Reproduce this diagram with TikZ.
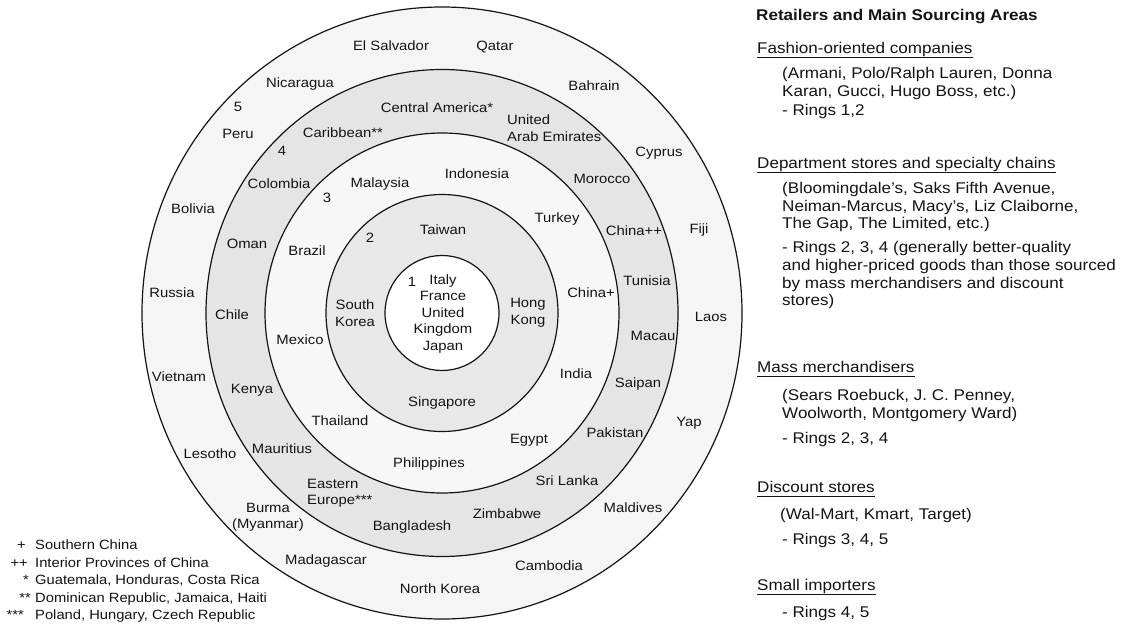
\documentclass[tikz,border=0pt]{standalone}
\usepackage{fontspec}
\setmainfont[FakeStretch=1.1]{Liberation Sans}
\usetikzlibrary{calc}

\definecolor{ink}{HTML}{141414}
\newcommand\ringfont{\fontsize{13.5}{16.5}\selectfont}
\newcommand\sidefont{\fontsize{15.5}{18}\selectfont}
\newcommand\notefont{\fontsize{13.4}{16}\selectfont}

\tikzset{
  ring/.style={draw=ink, line width=1.2pt},
  place/.style={font=\ringfont, inner sep=0pt, text=ink, anchor=base},
  block/.style={font=\ringfont, inner sep=0pt, text=ink, align=center},
  lblock/.style={font=\ringfont, inner sep=0pt, text=ink, align=left, anchor=west},
  head/.style={font=\sidefont, inner sep=0pt, text=ink, anchor=base west},
  body/.style={font=\sidefont, inner sep=0pt, text=ink, anchor=base west},
  uline/.style={draw=ink, line width=0.8pt},
  notemark/.style={font=\notefont, inner sep=0pt, text=ink, anchor=base east},
  note/.style={font=\notefont, inner sep=0pt, text=ink, anchor=base west},
}

\begin{document}
\begin{tikzpicture}[x=1pt, y=-1pt]
\useasboundingbox (0,0) rectangle (1123,623);
\fill[white] (0,0) rectangle (1123,623);

% ---- concentric sourcing rings ----
\coordinate (O) at (442,313);
\fill[black!4]  (O) ellipse [x radius=300pt, y radius=306pt];
\fill[black!10] (O) ellipse [x radius=236pt, y radius=243.5pt];
\fill[black!3]  (O) ellipse [x radius=177pt, y radius=180pt];
\fill[black!9]  (O) ellipse [x radius=116pt, y radius=118.5pt];
\fill[white]    (O) ellipse [x radius=57pt,  y radius=57.5pt];
\draw[ring] (O) ellipse [x radius=300pt, y radius=306pt];
\draw[ring] (O) ellipse [x radius=236pt, y radius=243.5pt];
\draw[ring] (O) ellipse [x radius=177pt, y radius=180pt];
\draw[ring] (O) ellipse [x radius=116pt, y radius=118.5pt];
\draw[ring] (O) ellipse [x radius=57pt,  y radius=57.5pt];

% ring 1
\node[place] (n1) at (412,286) {1};
\node[block] (core) at (443,314) {Italy\\France\\United\\Kingdom\\Japan};

% ring 2
\node[place] (n2) at (370,242) {2};
\node[place] (taiwan) at (443,234) {Taiwan};
\node[block] (skorea) at (355,313) {South\\Korea};
\node[block] (hkong) at (528,313) {Hong\\Kong};
\node[place] (singapore) at (442,406) {Singapore};

% ring 3
\node[place] (n3) at (327,202) {3};
\node[place] (malaysia) at (380,187) {Malaysia};
\node[place] (indonesia) at (477,178) {Indonesia};
\node[place] (turkey) at (557,222) {Turkey};
\node[place] (brazil) at (307,255) {Brazil};
\node[place] (chinap) at (591,297) {China+};
\node[place] (mexico) at (300,344) {Mexico};
\node[place] (india) at (576,378) {India};
\node[place] (thailand) at (340,425) {Thailand};
\node[place] (egypt) at (529,443) {Egypt};
\node[place] (philippines) at (429,467) {Philippines};

% ring 4
\node[place] (n4) at (282,155) {4};
\node[place] (centralam) at (437,113) {Central America*};
\node[place] (caribbean) at (343,137) {Caribbean**};
\node[lblock] (uae) at (507,128) {United\\Arab Emirates};
\node[place] (colombia) at (279,188) {Colombia};
\node[place] (morocco) at (602,183) {Morocco};
\node[place] (oman) at (247,248) {Oman};
\node[place] (chinapp) at (634,235) {China++};
\node[place] (chile) at (232,319) {Chile};
\node[place] (tunisia) at (647,285) {Tunisia};
\node[place] (macau) at (653,340) {Macau};
\node[place] (kenya) at (252,393) {Kenya};
\node[place] (saipan) at (638,387) {Saipan};
\node[place] (mauritius) at (282,453) {Mauritius};
\node[place] (pakistan) at (615,437) {Pakistan};
\node[lblock] (easteu) at (307,493) {Eastern\\Europe***};
\node[place] (srilanka) at (567,485) {Sri Lanka};
\node[place] (bangladesh) at (412,530) {Bangladesh};
\node[place] (zimbabwe) at (507,518) {Zimbabwe};

% ring 5
\node[place] (n5) at (238,112) {5};
\node[place] (elsalvador) at (391,51) {El Salvador};
\node[place] (qatar) at (495,51) {Qatar};
\node[place] (nicaragua) at (300,88) {Nicaragua};
\node[place] (bahrain) at (594,91) {Bahrain};
\node[place] (peru) at (238,138) {Peru};
\node[place] (cyprus) at (659,156) {Cyprus};
\node[place] (bolivia) at (193,213) {Bolivia};
\node[place] (fiji) at (699,233) {Fiji};
\node[place] (russia) at (172,297) {Russia};
\node[place] (laos) at (711,321) {Laos};
\node[place] (vietnam) at (179,381) {Vietnam};
\node[place] (yap) at (689,426) {Yap};
\node[place] (lesotho) at (210,458) {Lesotho};
\node[block] (burma) at (268,517) {Burma\\(Myanmar)};
\node[place] (maldives) at (633,512) {Maldives};
\node[place] (madagascar) at (326,564) {Madagascar};
\node[place] (cambodia) at (549,570) {Cambodia};
\node[place] (nkorea) at (440,593) {North Korea};

% ---- footnotes ----
\node[notemark] (m1) at (26,549) {+};
\node[note] (f1) at (35,549) {Southern China};
\node[notemark] (m2) at (28,567) {++};
\node[note] (f2) at (35,567) {Interior Provinces of China};
\node[notemark] (m3) at (29,584) {*};
\node[note] (f3) at (35,584) {Guatemala, Honduras, Costa Rica};
\node[notemark] (m4) at (31,602) {**};
\node[note] (f4) at (35,602) {Dominican Republic, Jamaica, Haiti};
\node[notemark] (m5) at (24,619) {***};
\node[note] (f5) at (35,619) {Poland, Hungary, Czech Republic};

% ---- retailer key ----
\node[head, font=\sidefont\bfseries] (title) at (756,20.5) {Retailers and Main Sourcing Areas};

\node[head] (h1) at (757,53.5) {Fashion-oriented companies};
\draw[uline] ($(h1.base west)+(0,4)$) -- ($(h1.base east)+(0,4)$);
\node[body] (a1) at (782,78.5) {(Armani, Polo/Ralph Lauren, Donna};
\node[body] (a2) at (782,97) {Karan, Gucci, Hugo Boss, etc.)};
\node[body] (a3) at (782,115.5) {- Rings 1,2};

\node[head] (h2) at (757,168.5) {Department stores and specialty chains};
\draw[uline] ($(h2.base west)+(0,4)$) -- ($(h2.base east)+(0,4)$);
\node[body] (b1) at (782,193.5) {(Bloomingdale's, Saks Fifth Avenue,};
\node[body] (b2) at (782,211.5) {Neiman-Marcus, Macy's, Liz Claiborne,};
\node[body] (b3) at (782,228.5) {The Gap, The Limited, etc.)};
\node[body] (b4) at (782,252.5) {- Rings 2, 3, 4 (generally better-quality};
\node[body] (b5) at (782,270.5) {and higher-priced goods than those sourced};
\node[body] (b6) at (782,288.5) {by mass merchandisers and discount};
\node[body] (b7) at (782,305.5) {stores)};

\node[head] (h3) at (757,372.5) {Mass merchandisers};
\draw[uline] ($(h3.base west)+(0,4)$) -- ($(h3.base east)+(0,4)$);
\node[body] (c1) at (782,400.5) {(Sears Roebuck, J. C. Penney,};
\node[body] (c2) at (782,418.5) {Woolworth, Montgomery Ward)};
\node[body] (c3) at (782,443.5) {- Rings 2, 3, 4};

\node[head] (h4) at (757,492.5) {Discount stores};
\draw[uline] ($(h4.base west)+(0,4)$) -- ($(h4.base east)+(0,4)$);
\node[body] (d1) at (780,519.5) {(Wal-Mart, Kmart, Target)};
\node[body] (d2) at (782,544.5) {- Rings 3, 4, 5};

\node[head] (h5) at (757,590.5) {Small importers};
\draw[uline] ($(h5.base west)+(0,4)$) -- ($(h5.base east)+(0,4)$);
\node[body] (e1) at (782,617.5) {- Rings 4, 5};
\end{tikzpicture}
\end{document}
